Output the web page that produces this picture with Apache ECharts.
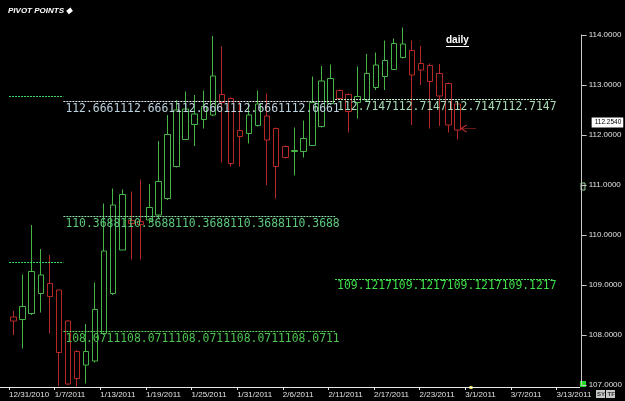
<!DOCTYPE html>
<html>
<head>
<meta charset="utf-8">
<script src="https://cdn.jsdelivr.net/npm/echarts@6/dist/echarts.min.js"></script>
<style>
  html, body { margin: 0; padding: 0; background: #000; }
  #main { width: 625px; height: 401px; }
</style>
</head>
<body>
<div id="main"></div>
<script>
// 日线K线：开 收 低 高（从第1格开始）
var opens  = [108.36,108.31,108.43,108.83,109.03,108.90,108.28,107.67,107.40,107.48,
              108.03,108.83,109.70,110.29,110.27,110.30,110.40,110.73,111.37,111.91,
              112.21,112.31,112.40,112.81,112.73,112.09,112.03,112.19,112.38,112.13,
              111.77,111.67,111.67,111.79,112.17,112.63,112.89,112.81,112.65,112.70,
              112.95,113.17,113.31,113.55,113.69,113.43,113.39,113.23,113.03,112.62];
var closes = [108.28,108.57,109.27,109.20,108.77,107.65,107.02,107.13,107.67,108.51,
              109.68,110.60,110.81,110.23,110.21,110.55,111.07,112.01,112.50,112.52,
              112.42,112.57,113.18,112.65,111.43,111.97,112.40,112.62,111.90,111.37,
              111.55,111.69,111.93,112.65,113.08,113.13,112.73,112.47,112.77,113.23,
              113.40,113.49,113.83,113.82,113.20,113.30,113.07,112.78,112.20,112.10];
var lows   = [108.00,107.73,108.40,108.45,108.03,106.98,107.00,106.97,107.03,107.45,
              108.00,108.80,109.70,109.51,109.51,110.23,110.33,110.70,111.35,111.90,
              111.78,112.13,112.38,111.45,111.37,111.37,111.83,112.17,111.00,110.73,
              111.53,111.19,111.55,111.78,112.15,112.60,112.70,112.05,112.33,112.68,
              112.90,112.90,113.30,113.53,112.20,113.00,112.13,112.18,112.05,111.91];
var highs  = [108.48,109.21,110.20,109.72,109.60,108.90,108.30,107.70,108.22,109.05,
              110.63,110.93,110.91,110.87,111.11,111.02,111.88,112.40,112.70,112.87,
              112.80,112.89,113.98,113.77,112.75,112.67,112.65,112.89,112.83,112.15,
              111.79,112.15,112.29,113.17,113.38,113.41,112.91,112.83,113.37,113.62,
              113.65,113.89,113.93,114.15,113.89,113.78,113.43,113.42,113.05,112.64];

var firstSlot = 1;
var slotCount = 64;
var dateLabels = ['12/31/2010','1/7/2011','1/13/2011','1/19/2011','1/25/2011','1/31/2011','2/6/2011',
                  '2/11/2011','2/17/2011','2/23/2011','3/1/2011','3/7/2011','3/13/2011'];

// 枢轴点：数值、起止格、文字重复次数、颜色
var pivotValues = [112.78, 109.46, 112.6661, 110.3688, 108.0711, 112.7147, 109.1217];
var pivotFrom   = [1, 1, 7, 7, 7, 37, 37];
var pivotTo     = [7, 7, 37, 37, 37, 61, 61];
var pivotRepeat = [0, 0, 5, 5, 5, 4, 4];
var pivotLine   = ['#3fd860','#3fd860','#e6eef4','#8ee0a4','#5ed466','#c8f0d0','#4ee456'];
var pivotText   = ['#3fd860','#3fd860','#bcd2de','#5cc87c','#4cc450','#a8dcb8','#3ede48'];

var lastPrice = 112.254;
var arrowAt = [51, 112.13];

var slots = [], candleData = [];
for (var i = 0; i < slotCount; i++) {
  slots.push(String(i));
  var k = i - firstSlot;
  candleData.push(k >= 0 && k < opens.length ? [opens[k], closes[k], lows[k], highs[k]] : '-');
}

var pivotMarks = [];
for (var p = 0; p < pivotValues.length; p++) {
  var txt = '';
  for (var r = 0; r < pivotRepeat[p]; r++) txt += pivotValues[p].toFixed(4);
  pivotMarks.push([
    {
      coord: [pivotFrom[p], pivotValues[p]],
      lineStyle: { color: pivotLine[p] },
      label: {
        show: pivotRepeat[p] > 0,
        formatter: txt,
        color: pivotText[p]
      }
    },
    { coord: [pivotTo[p], pivotValues[p]] }
  ]);
}

var chart = echarts.init(document.getElementById('main'));
chart.setOption({
  backgroundColor: '#000',
  animation: false,
  title: {
    text: 'PIVOT POINTS \u25C6',
    left: 3, top: 2,
    textStyle: { color: '#fff', fontSize: 8, fontStyle: 'italic', fontWeight: 'bold', fontFamily: 'Liberation Sans' }
  },
  grid: [
    { left: 0, top: 35, width: 583.8, height: 350 },
    { left: 9.122, top: 35, width: 547.32, height: 350 }
  ],
  xAxis: [
    {
      type: 'category', gridIndex: 0, data: slots, offset: 2,
      axisLine: { onZero: false, lineStyle: { color: '#e8e8e8' } },
      axisTick: { show: false }, axisLabel: { show: false }, splitLine: { show: false }
    },
    { type: 'value', gridIndex: 0, min: 0, max: slotCount, show: false, axisLine: { onZero: false } },
    {
      type: 'value', gridIndex: 1, min: 0, max: 60, interval: 5, offset: 2,
      axisLine: { show: false, onZero: false },
      axisTick: { length: 3, lineStyle: { color: '#e8e8e8' } },
      splitLine: { show: false },
      axisLabel: {
        align: 'left', margin: 4, color: '#e0e0e0', fontSize: 8,
        fontFamily: 'Liberation Sans Narrow, Liberation Sans',
        formatter: function (v) { return dateLabels[v / 5] || ''; }
      }
    }
  ],
  yAxis: [
    {
      type: 'value', gridIndex: 0, position: 'right', min: 107, max: 114, interval: 1, offset: 2,
      axisLine: { show: true, onZero: false, lineStyle: { color: '#c8c8c8' } },
      axisTick: { show: true, length: 5, lineStyle: { color: '#c8c8c8' } },
      splitLine: { show: false },
      axisLabel: {
        margin: 7, color: '#e0e0e0', fontSize: 8,
        fontFamily: 'Liberation Sans Narrow, Liberation Sans',
        formatter: function (v) { return v.toFixed(4); }
      }
    },
    { type: 'value', gridIndex: 1, min: 107, max: 114, show: false, axisLine: { onZero: false } }
  ],
  series: [
    {
      type: 'candlestick',
      xAxisIndex: 0, yAxisIndex: 0,
      data: candleData,
      barWidth: 6,
      clip: false,
      itemStyle: {
        color: 'transparent', color0: 'transparent',
        borderColor: '#46b446', borderColor0: '#b42828', borderWidth: 1
      },
      markLine: {
        silent: true, symbol: ['none', 'none'],
        lineStyle: { color: 'transparent' },
        label: {
          position: 'end', distance: 12, formatter: lastPrice.toFixed(4),
          backgroundColor: '#fff', color: '#000', fontSize: 6.5, padding: [2, 2, 1, 3],
          fontFamily: 'Liberation Sans'
        },
        data: [{ yAxis: lastPrice }]
      },
      markPoint: {
        silent: true,
        symbol: 'path://M6,0 L0,3 L6,6 M0,3 L16,3',
        symbolSize: [15, 7],
        symbolOffset: [2, 0],
        itemStyle: { color: 'none', borderColor: '#c83232', borderWidth: 1 },
        label: { show: false },
        data: [{ coord: arrowAt }]
      }
    },
    {
      type: 'line',
      xAxisIndex: 1, yAxisIndex: 0,
      data: [[0, 107]],
      symbol: 'none',
      lineStyle: { opacity: 0 },
      silent: true,
      markLine: {
        silent: true, symbol: ['none', 'none'],
        lineStyle: { type: [2, 1], width: 1 },
        label: {
          position: 'insideStartBottom', distance: [2, 2],
          fontFamily: 'DejaVu Sans Mono', fontSize: 11.4
        },
        data: pivotMarks
      }
    }
  ],
  graphic: [
    { type: 'text', left: 446, top: 35, style: { text: 'daily', fill: '#fff', font: 'bold 10px Liberation Sans' } },
    { type: 'rect', shape: { x: 446, y: 46, width: 23, height: 1 }, style: { fill: '#fff' } },
    { type: 'rect', shape: { x: 580, y: 381, width: 6, height: 6 }, style: { fill: '#22dd22' } },
    { type: 'rect', shape: { x: 581, y: 183, width: 4, height: 7 }, style: { fill: '#111', stroke: '#9c9', lineWidth: 1 } },
    { type: 'rect', shape: { x: 469.5, y: 386, width: 3, height: 3 }, style: { fill: '#ffee55' } },
    { type: 'rect', shape: { x: 596, y: 390, width: 9, height: 8 }, style: { fill: '#c8c8c8' } },
    { type: 'rect', shape: { x: 606, y: 390, width: 9, height: 8 }, style: { fill: '#c8c8c8' } },
    { type: 'text', left: 597, top: 391, style: { text: 'SY', fill: '#333', font: 'bold 6px Liberation Sans' } },
    { type: 'text', left: 607.5, top: 391, style: { text: 'TF', fill: '#333', font: 'bold 6px Liberation Sans' } }
  ]
});
</script>
</body>
</html>
